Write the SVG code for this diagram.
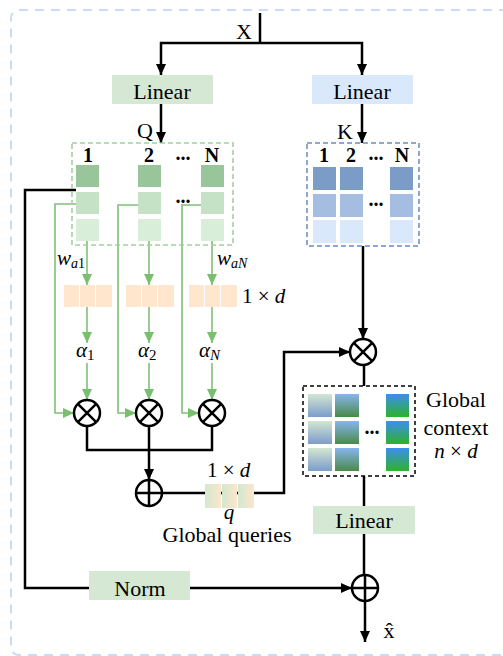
<svg xmlns="http://www.w3.org/2000/svg" width="503" height="656" viewBox="0 0 503 656">
<defs>
<style>
.t{font-family:"Liberation Serif","Times New Roman",serif;font-size:22px;fill:#000}
.b{font-weight:bold;font-size:20px}
.m{font-family:"Liberation Serif","Times New Roman",serif;font-size:21px;fill:#000}
.i{font-style:italic}
.blk{stroke:#000;stroke-width:2.5;fill:none}
.grn{stroke:#80c077;stroke-width:1.6;fill:none}
.op{fill:#fff;stroke:#000;stroke-width:2.5}
.q1{fill:#98c599}.q2{fill:#c6e2c6}.q3{fill:#d8eed8}
.k1{fill:#7c9cc8}.k2{fill:#a5bde0}.k3{fill:#dae8fc}
.or{fill:#ffe6cc}
</style>
<marker id="ab" markerUnits="userSpaceOnUse" markerWidth="11" markerHeight="10" refX="11" refY="5" orient="auto"><path d="M0,0 L11,5 L0,10 z" fill="#000"/></marker>
<marker id="ag" markerUnits="userSpaceOnUse" markerWidth="11" markerHeight="10" refX="11" refY="5" orient="auto"><path d="M0,0 L11,5 L0,10 z" fill="#78c06e"/></marker>
<linearGradient id="gq" x1="0" y1="0" x2="1" y2="0"><stop offset="0" stop-color="#d2e8d0"/><stop offset="1" stop-color="#fde6cc"/></linearGradient>
<linearGradient id="g1" x1="0" y1="0" x2="0" y2="1"><stop offset="0" stop-color="#d3e6d2"/><stop offset="1" stop-color="#7c9ccb"/></linearGradient>
<linearGradient id="g2" x1="0" y1="0" x2="0" y2="1"><stop offset="0" stop-color="#88b4ee"/><stop offset="1" stop-color="#4a8a48"/></linearGradient>
<linearGradient id="g3" x1="0" y1="0" x2="0" y2="1"><stop offset="0" stop-color="#3d8ef0"/><stop offset="1" stop-color="#2db22a"/></linearGradient>
</defs>
<rect x="11" y="10" width="530" height="645" rx="8" fill="none" stroke="#cadcf0" stroke-width="2" stroke-dasharray="9 7"/>

<g id="connectors">
<path class="blk" d="M260 13 V43"/>
<path class="blk" d="M260 43 H161 V75" marker-end="url(#ab)"/>
<path class="blk" d="M260 43 H362 V75" marker-end="url(#ab)"/>
<path class="blk" d="M161 104 V143" marker-end="url(#ab)"/>
<path class="blk" d="M362 104 V143" marker-end="url(#ab)"/>
<path class="blk" d="M363 246 V339" marker-end="url(#ab)"/>
<path class="blk" d="M364 365 V386"/>
<path class="blk" d="M364 476 V506"/>
<path class="blk" d="M364 534 V575"/>
<path class="blk" d="M365 601 V642" marker-end="url(#ab)"/>
<path class="blk" d="M76 190 H25 V588 H89"/>
<path class="blk" d="M190 588 H352" marker-end="url(#ab)"/>
<path class="blk" d="M87 426 V450 H212 V426"/>
<path class="blk" d="M149 426 V480" marker-end="url(#ab)"/>
<path class="blk" d="M162 493 H284 V352 H350" marker-end="url(#ab)"/>
<path class="grn" d="M76 204 H55 V413 H74" marker-end="url(#ag)"/>
<path class="grn" d="M138 205 H118 V413 H136" marker-end="url(#ag)"/>
<path class="grn" d="M201 205 H182 V413 H199" marker-end="url(#ag)"/>
<path class="grn" d="M87 241 V285" marker-end="url(#ag)"/>
<path class="grn" d="M149 241 V285" marker-end="url(#ag)"/>
<path class="grn" d="M212 241 V285" marker-end="url(#ag)"/>
<path class="grn" d="M87 307 V343" marker-end="url(#ag)"/>
<path class="grn" d="M149 307 V343" marker-end="url(#ag)"/>
<path class="grn" d="M212 307 V343" marker-end="url(#ag)"/>
<path class="grn" d="M87 363 V400" marker-end="url(#ag)"/>
<path class="grn" d="M149 363 V400" marker-end="url(#ag)"/>
<path class="grn" d="M212 363 V400" marker-end="url(#ag)"/>
</g>

<g id="input"><text class="t" x="244" y="39" text-anchor="middle" font-size="24">X</text></g>

<g id="linear-q"><rect x="112" y="75" width="101" height="29" fill="#d5e8d4"/><text class="t" x="162" y="99" text-anchor="middle">Linear</text></g>
<g id="linear-k"><rect x="312" y="75" width="101" height="29" fill="#dae8fc"/><text class="t" x="362" y="99" text-anchor="middle">Linear</text></g>
<text class="t" x="145" y="138" text-anchor="middle" font-size="21">Q</text>
<text class="t" x="345" y="139" text-anchor="middle" font-size="21">K</text>

<g id="q-matrix">
<rect x="72" y="143" width="161" height="102" fill="none" stroke="#a3d0a3" stroke-width="1.6" stroke-dasharray="5 3"/>
<text class="t b" x="88" y="162" text-anchor="middle">1</text>
<text class="t b" x="149" y="162" text-anchor="middle">2</text>
<text class="t b" x="183" y="160" text-anchor="middle">...</text>
<text class="t b" x="212" y="162" text-anchor="middle">N</text>
<rect class="q1" x="76" y="165" width="23" height="22"/><rect class="q2" x="76" y="192" width="23" height="22"/><rect class="q3" x="76" y="219" width="23" height="22"/>
<rect class="q1" x="138" y="165" width="23" height="22"/><rect class="q2" x="138" y="192" width="23" height="22"/><rect class="q3" x="138" y="219" width="23" height="22"/>
<rect class="q1" x="201" y="165" width="23" height="22"/><rect class="q2" x="201" y="192" width="23" height="22"/><rect class="q3" x="201" y="219" width="23" height="22"/>
<text class="t b" x="183" y="203" text-anchor="middle">...</text>
</g>

<g id="k-matrix">
<rect x="307" y="143" width="112" height="103" fill="none" stroke="#8ea8d0" stroke-width="2" stroke-dasharray="5 3"/>
<text class="t b" x="324" y="162" text-anchor="middle">1</text>
<text class="t b" x="351" y="162" text-anchor="middle">2</text>
<text class="t b" x="376" y="160" text-anchor="middle">...</text>
<text class="t b" x="402" y="162" text-anchor="middle">N</text>
<rect class="k1" x="313" y="167" width="23" height="23"/><rect class="k2" x="313" y="194" width="23" height="23"/><rect class="k3" x="313" y="220" width="23" height="23"/>
<rect class="k1" x="340" y="167" width="23" height="23"/><rect class="k2" x="340" y="194" width="23" height="23"/><rect class="k3" x="340" y="220" width="23" height="23"/>
<rect class="k1" x="390" y="167" width="23" height="23"/><rect class="k2" x="390" y="194" width="23" height="23"/><rect class="k3" x="390" y="220" width="23" height="23"/>
<text class="t b" x="376" y="206" text-anchor="middle">...</text>
</g>

<g id="w-labels">
<text class="m" x="57" y="265"><tspan class="i">w</tspan><tspan font-size="14" dy="3"><tspan class="i">a</tspan>1</tspan></text>
<text class="m" x="217" y="265"><tspan class="i">w</tspan><tspan font-size="14" dy="3" class="i">aN</tspan></text>
</g>

<g id="bars">
<rect class="or" x="64" y="285" width="15" height="22"/><rect class="or" x="80" y="285" width="15" height="22"/><rect class="or" x="96" y="285" width="16" height="22"/>
<rect class="or" x="126" y="285" width="15" height="22"/><rect class="or" x="142" y="285" width="15" height="22"/><rect class="or" x="158" y="285" width="16" height="22"/>
<rect class="or" x="189" y="285" width="15" height="22"/><rect class="or" x="205" y="285" width="15" height="22"/><rect class="or" x="221" y="285" width="16" height="22"/>
<text class="m" x="242" y="303" font-size="22">1 × <tspan class="i">d</tspan></text>
</g>

<g id="alphas">
<rect x="74" y="344" width="28" height="19" fill="#fff"/>
<rect x="136" y="344" width="28" height="19" fill="#fff"/>
<rect x="198" y="344" width="32" height="19" fill="#fff"/>
<text class="m" x="76" y="357" font-size="23"><tspan class="i">α</tspan><tspan font-size="15" dy="3">1</tspan></text>
<text class="m" x="138" y="357" font-size="23"><tspan class="i">α</tspan><tspan font-size="15" dy="3">2</tspan></text>
<text class="m" x="199" y="357" font-size="23"><tspan class="i">α</tspan><tspan font-size="15" dy="3" class="i">N</tspan></text>
</g>

<g id="mul1"><circle class="op" cx="87" cy="413" r="13"/><path class="blk" d="M77.8 403.8 L96.2 422.2 M96.2 403.8 L77.8 422.2"/></g>
<g id="mul2"><circle class="op" cx="149" cy="413" r="13"/><path class="blk" d="M139.8 403.8 L158.2 422.2 M158.2 403.8 L139.8 422.2"/></g>
<g id="mulN"><circle class="op" cx="212" cy="413" r="13"/><path class="blk" d="M202.8 403.8 L221.2 422.2 M221.2 403.8 L202.8 422.2"/></g>

<g id="sum-q"><circle class="op" cx="149" cy="493" r="13"/><path class="blk" d="M136 493 H162 M149 480 V506"/></g>

<g id="global-queries">
<rect x="205" y="484" width="16" height="24" fill="url(#gq)"/>
<rect x="222" y="484" width="15" height="24" fill="url(#gq)"/>
<rect x="238" y="484" width="16" height="24" fill="url(#gq)"/>
<text class="m" x="207" y="477" font-size="22">1 × <tspan class="i">d</tspan></text>
<text class="m i" x="229" y="519" text-anchor="middle" font-size="22">q</text>
<text class="t" x="227" y="542" text-anchor="middle">Global queries</text>
</g>

<g id="mul-k"><circle class="op" cx="363" cy="352" r="13"/><path class="blk" d="M353.8 342.8 L372.2 361.2 M372.2 342.8 L353.8 361.2"/></g>

<g id="global-context">
<rect x="303" y="386" width="112" height="90" fill="#fff" stroke="#000" stroke-width="1.5" stroke-dasharray="4 3"/>
<rect x="308" y="394" width="24" height="23" fill="url(#g1)"/><rect x="308" y="421" width="24" height="23" fill="url(#g1)"/><rect x="308" y="448" width="24" height="23" fill="url(#g1)"/>
<rect x="335" y="394" width="24" height="23" fill="url(#g2)"/><rect x="335" y="421" width="24" height="23" fill="url(#g2)"/><rect x="335" y="448" width="24" height="23" fill="url(#g2)"/>
<rect x="386" y="394" width="23" height="23" fill="url(#g3)"/><rect x="386" y="421" width="23" height="23" fill="url(#g3)"/><rect x="386" y="448" width="23" height="23" fill="url(#g3)"/>
<text class="t b" x="372" y="434" text-anchor="middle">...</text>
<text class="t" x="456" y="407" text-anchor="middle">Global</text>
<text class="t" x="456" y="435" text-anchor="middle">context</text>
<text class="m" x="456" y="458" text-anchor="middle" font-size="22"><tspan class="i">n</tspan> × <tspan class="i">d</tspan></text>
</g>

<g id="linear-out"><rect x="313" y="506" width="102" height="28" fill="#d5e8d4"/><text class="t" x="364" y="528" text-anchor="middle">Linear</text></g>

<g id="norm"><rect x="89" y="571" width="101" height="29" fill="#d5e8d4"/><text class="t" x="140" y="596" text-anchor="middle">Norm</text></g>

<g id="sum-out"><circle class="op" cx="365" cy="588" r="13"/><path class="blk" d="M352 588 H378 M365 575 V601"/></g>

<g id="output"><text class="t" x="389" y="638" text-anchor="middle" font-size="30">x̂</text></g>
</svg>
